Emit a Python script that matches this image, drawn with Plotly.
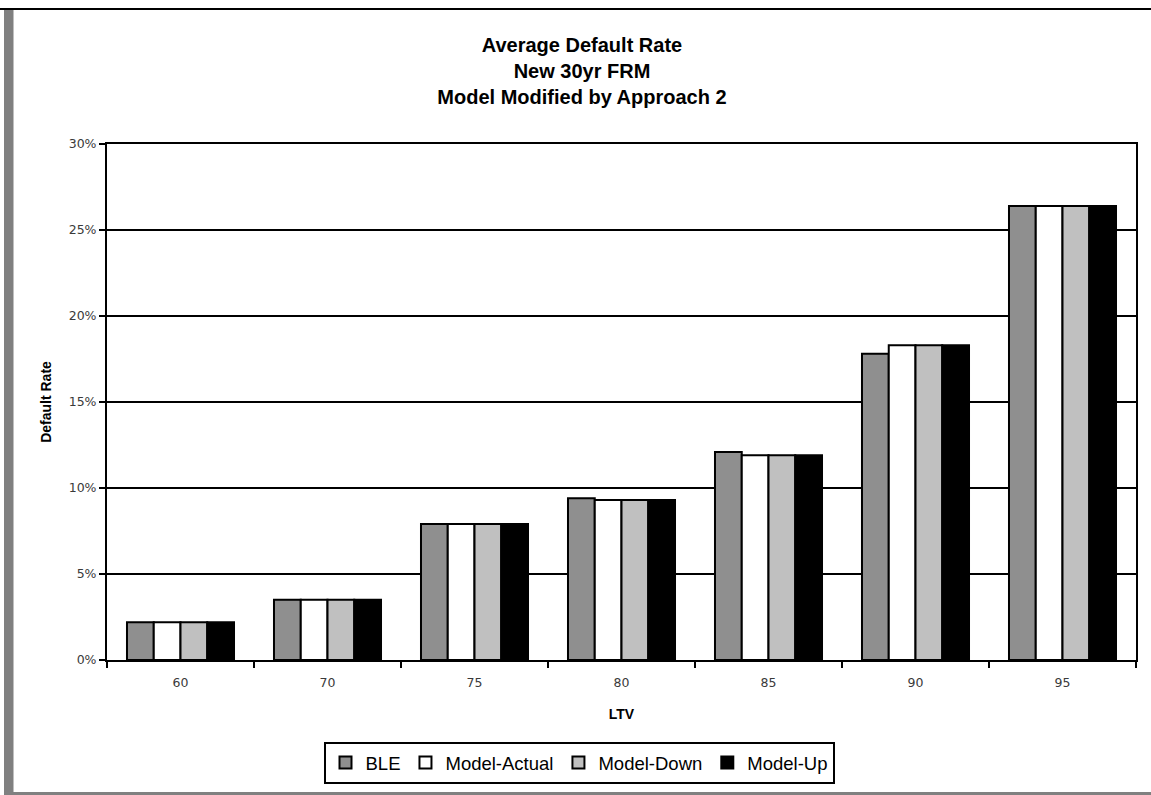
import plotly.graph_objects as go

# LTV buckets and average default rates (%) per series
ltv = ["60", "70", "75", "80", "85", "90", "95"]
ble = [2.2, 3.5, 7.9, 9.4, 12.1, 17.8, 26.4]
model_actual = [2.2, 3.5, 7.9, 9.3, 11.9, 18.3, 26.4]
model_down = [2.2, 3.5, 7.9, 9.3, 11.9, 18.3, 26.4]
model_up = [2.2, 3.5, 7.9, 9.3, 11.9, 18.3, 26.4]

series = [
    ("BLE", ble, "#8f8f8f"),
    ("Model-Actual", model_actual, "#ffffff"),
    ("Model-Down", model_down, "#c0c0c0"),
    ("Model-Up", model_up, "#000000"),
]

W, H = 1151, 795
ML, MR, MT, MB = 107, 15, 144, 135
PW, PH = W - ML - MR, H - MT - MB


def px_x(p):
    return (p - ML) / PW


def px_y(p):
    return (H - MB - p) / PH


fig = go.Figure()
for name, vals, color in series:
    fig.add_trace(go.Bar(
        x=ltv, y=vals, name=name,
        marker=dict(color=color, line=dict(color="#000000", width=2)),
    ))

tick_font = dict(family="DejaVu Sans", size=12.5, color="#3a3a3a")
bold_font = dict(family="Liberation Sans, Arial", size=14, color="#000000")

fig.update_layout(
    width=W, height=H,
    margin=dict(l=ML, r=MR, t=MT, b=MB, autoexpand=False),
    paper_bgcolor="#ffffff", plot_bgcolor="#ffffff",
    barmode="group", bargap=0.272, bargroupgap=0,
    title=dict(
        text="<b>Average Default Rate<br>New 30yr FRM<br>Model Modified by Approach 2</b>",
        x=582 / W, xanchor="center", xref="container",
        y=1 - 52 / H, yanchor="middle", yref="container",
        font=dict(family="Liberation Sans, Arial", size=20, color="#000000"),
    ),
    xaxis=dict(
        type="category",
        showline=True, linecolor="#000000", linewidth=2, mirror=True,
        ticks="outside", tickson="boundaries", ticklen=6, tickwidth=2, tickcolor="#000000",
        tickfont=tick_font, ticklabelstandoff=10, showgrid=False,
        title=dict(text="<b>LTV</b>", font=bold_font, standoff=20),
    ),
    yaxis=dict(
        range=[0, 30], dtick=5, ticksuffix="%",
        showline=True, linecolor="#000000", linewidth=2, mirror=True,
        ticks="outside", ticklen=6, tickwidth=2, tickcolor="#000000",
        tickfont=tick_font,
        showgrid=True, gridcolor="#000000", gridwidth=2,
        zeroline=False,
        title=dict(text="<b>Default Rate</b>", font=bold_font, standoff=14),
    ),
    legend=dict(
        orientation="h",
        x=px_x(579), xanchor="center",
        y=px_y(742), yanchor="top",
        font=dict(family="Liberation Sans, Arial", size=18.5, color="#000000"),
        bordercolor="#000000", borderwidth=2, bgcolor="#ffffff",
        itemclick=False,
    ),
    showlegend=True,
)

# chart frame: black top rule, grey left and bottom edges
frame = [
    dict(x0=px_x(0), x1=px_x(W), y0=px_y(8), y1=px_y(10), color="#000000"),
    dict(x0=px_x(4), x1=px_x(13.5), y0=px_y(10), y1=px_y(H), color="#808080"),
    dict(x0=px_x(4), x1=px_x(W), y0=px_y(792), y1=px_y(H), color="#808080"),
]
for f in frame:
    fig.add_shape(type="rect", xref="paper", yref="paper",
                  x0=f["x0"], x1=f["x1"], y0=f["y0"], y1=f["y1"],
                  fillcolor=f["color"], line=dict(width=0), layer="above")

fig.write_html("out.html")
